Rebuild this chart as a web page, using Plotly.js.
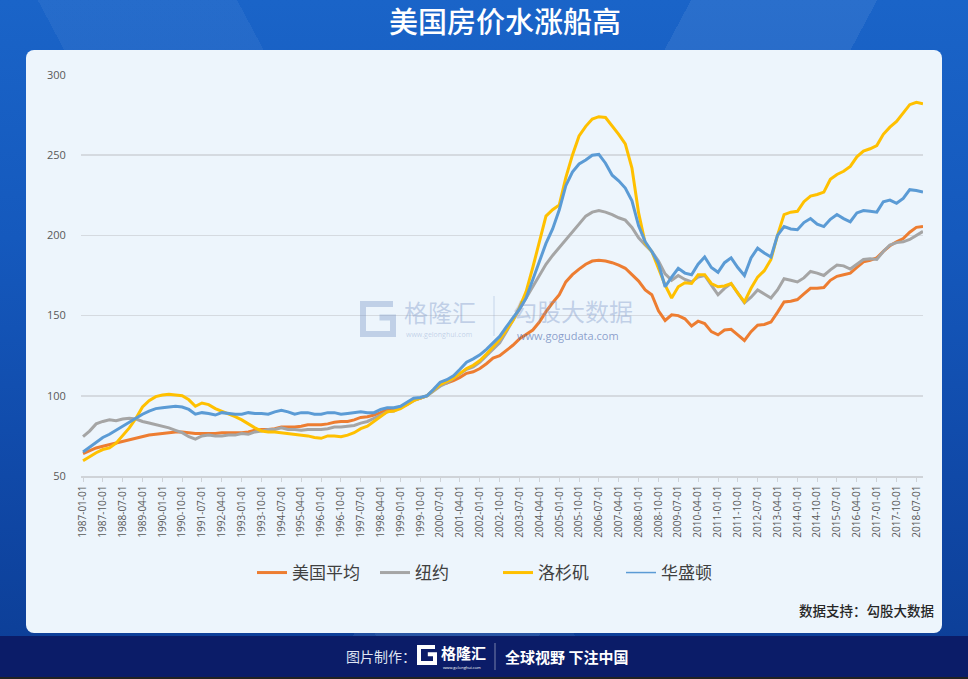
<!DOCTYPE html>
<html>
<head>
<meta charset="utf-8">
<script src="https://cdn.plot.ly/plotly-3.0.1.min.js"></script>
<style>
  html, body { margin: 0; padding: 0; }
  body {
    width: 968px; height: 679px; position: relative; overflow: hidden;
    background:
      linear-gradient(118deg, rgba(255,255,255,0) 52%, rgba(255,255,255,0.07) 52%, rgba(255,255,255,0.07) 66%, rgba(255,255,255,0) 66%),
      linear-gradient(62deg, rgba(255,255,255,0) 30%, rgba(255,255,255,0.05) 30%, rgba(255,255,255,0.05) 45%, rgba(255,255,255,0) 45%),
      linear-gradient(180deg, #1a64c8 0%, #1559bd 35%, #1049a8 70%, #0c3d95 100%);
  }
  #panel { position: absolute; left: 26px; top: 50px; width: 916px; height: 583px;
           border-radius: 8px; background: #edf5fc; }
  #footer { position: absolute; left: 0; top: 636px; width: 968px; height: 41px; background: #0b1c68; }
  #footer-edge { position: absolute; left: 0; top: 677px; width: 968px; height: 2px; background: #222; }
  #chart { position: absolute; left: 0; top: 0; width: 968px; height: 679px; }
</style>
</head>
<body>
<div id="panel"></div>
<div id="footer"></div>
<div id="footer-edge"></div>
<div id="chart"></div>
<script>
// Quarterly house price index, Jan 2000 = 100 (1987-01 .. 2018-10)
const seriesNames = ['美国平均', '纽约', '洛杉矶', '华盛顿'];

const usAverage = [
  64, 66, 67.5, 68.5,   69.5, 70.5, 71.5, 72.5,   73.5, 74.5, 75.5, 76,     76.5, 77, 77.5, 77.5,
  77, 76.5, 76.5, 76.5, 76.5, 77, 77, 77,         77, 77.5, 78.5, 79,       79, 79.5, 80.5, 80.5,
  80.5, 81, 82, 82,     82, 82.5, 83.5, 84,       84, 85, 86.5, 87,         88, 89.5, 91.5, 92,
  93, 95, 97.5, 98.5,   100, 103.5, 107, 108,     109.5, 111.5, 114, 115,   117, 120, 123.5, 125,
  128, 131.5, 135.5, 138, 141, 146, 152.5, 158,   163, 171, 175.5, 179,     182, 184, 184.5, 184,
  183, 181.5, 179.5, 175.5, 171.5, 166, 163, 153, 147, 150.5, 150, 148,     143.5, 146.5, 145, 140,
  138, 141, 141.5, 138, 134.5, 140, 144, 144.5,   146, 152, 158.5, 159,     160, 163.5, 167, 167,
  167.5, 172, 174.5, 175.5, 176.5, 180, 183.5, 184.5, 186, 190, 193.5, 196, 198, 202, 205, 205.5
];

const newYork = [
  74.5, 78, 82.5, 84,   85, 84.5, 85.5, 86,       85.5, 84, 83, 82,         81, 80, 78.5, 77,
  74.5, 73, 75, 75.5,   75, 75, 75.5, 75.5,       76.5, 76, 77.5, 78,       79, 79, 80, 79,
  79, 78.5, 79, 79,     79, 79.5, 80.5, 80.5,     81, 81.5, 83, 84,         86, 88, 90, 90.5,
  93, 94.5, 97, 98.5,   100, 103, 106, 108,       111, 113.5, 116.5, 118,   121, 125, 129, 133,
  140, 147, 154, 161,   168, 175, 182, 187.5,     192.5, 197, 202, 207.5,   212, 214.5, 215.5, 214.5,
  213, 211, 209.5, 205, 198.5, 194, 190, 184,     176, 172, 175, 172.5,     171, 174, 175, 169,
  163, 167, 170, 164,   158, 161.5, 166, 163.5,   161, 166, 173, 172,       171, 173.5, 177.5, 176.5,
  175, 178.5, 181.5, 181, 179, 182, 185, 185.5,   185, 190, 194, 195.5,     196, 197.5, 200, 202.5
];

const losAngeles = [
  59.5, 62, 64.5, 66.5, 67.5, 70.5, 75, 80,       86, 93, 97, 99.5,         100.5, 101, 100.5, 100,
  97.5, 93.5, 95.5, 94.5, 92, 90.5, 89, 87,       85, 82.5, 80, 78,         77.5, 77.5, 77, 76.5,
  76, 75.5, 75, 74,     73.5, 75, 75, 74.5,       75.5, 77, 79.5, 81,       84, 87.5, 90, 90.5,
  92, 94.5, 97, 98.5,   100, 103.5, 107, 109,     111, 114, 117, 119,       122, 126, 130.5, 135,
  141, 147, 155, 165,   180, 196, 212, 216,       219, 236, 250, 262,       268, 272.5, 274, 273.5,
  268.5, 263, 257, 242, 214, 195, 190, 179.5,     169, 161, 168, 170.5,     170, 175.5, 175.5, 170,
  168, 168.5, 170, 164, 158.5, 167, 174, 178,     185, 200, 213, 214.5,     215, 221, 224.5, 225.5,
  227, 235, 238, 240,   243, 249, 252.5, 254,      256, 263, 267.5, 271,     276, 281.5, 283, 282
];

const washington = [
  65, 68, 71.5, 74,     76, 78.5, 81, 84,         86.5, 88.5, 90.5, 92,     92.5, 93, 93.5, 93,
  91.5, 88.5, 89.5, 89, 88, 89.5, 89, 88.5,       88.5, 89.5, 89, 89,       88.5, 90, 91, 90,
  88.5, 89.5, 89.5, 88.5, 88.5, 89.5, 89.5, 88.5, 89, 89.5, 90, 89.5,       89.5, 91.5, 92.5, 92.5,
  93.5, 96, 98.5, 99,   100, 104, 108.5, 110,     112.5, 116.5, 121, 123,   125.5, 129, 133, 137,
  143, 148.5, 154, 161, 172, 184, 195, 204,       216, 231, 239.5, 244.5,   247, 250, 250.5, 245,
  237.5, 234, 229.5, 221.5, 206, 196, 190, 182.5, 168, 174, 179.5, 176.5,   175.5, 182, 186.5, 180,
  177, 183, 186, 180,   175, 186, 192, 189,       186.5, 200, 205.5, 204,   203.5, 208, 210.5, 207,
  205.5, 210, 213, 210.5, 208.5, 214, 215.5, 215, 214.5, 221, 222, 220,     223, 228.5, 228, 227
];

// quarterly observation dates
const dates = [];
for (let y = 1987; y <= 2018; y++) {
  for (const m of ['01', '04', '07', '10']) dates.push(y + '-' + m + '-01');
}

const colors = ['#ED7D31', '#A5A5A5', '#FFC000', '#5B9BD5'];
const values = [usAverage, newYork, losAngeles, washington];

const traces = values.map((v, i) => ({
  type: 'scatter', mode: 'lines', x: dates, y: v, name: seriesNames[i],
  line: { color: colors[i], width: 3 }, showlegend: i < 3, hoverinfo: 'x+y+name'
}));
// thin legend key for the last series
traces.push({
  type: 'scatter', mode: 'lines', x: [null], y: [null], name: seriesNames[3],
  line: { color: colors[3], width: 1.5 }, showlegend: true, hoverinfo: 'skip'
});

// plot area in page pixels
const L = 81, R = 923, T = 75, B = 476;
const px = x => (x - L) / (R - L);
const py = y => (B - y) / (B - T);
const path = pts => pts.map((p, i) => (i ? 'L' : 'M') + px(p[0]).toFixed(5) + ',' + py(p[1]).toFixed(5)).join(' ');

const cjk = '"Noto Sans CJK SC", "Noto Sans", sans-serif';
const wm = 'rgba(118,146,196,0.38)';

// G-shaped brand mark
function gMark(x0, y0, s, color, w) {
  const pts = [[x0 + s, y0], [x0, y0], [x0, y0 + s], [x0 + s, y0 + s], [x0 + s, y0 + s * 0.45], [x0 + s * 0.55, y0 + s * 0.45]];
  return { type: 'path', xref: 'paper', yref: 'paper', path: path(pts), line: { color: color, width: w }, layer: 'above' };
}

const layout = {
  width: 968, height: 679,
  margin: { l: L, r: 968 - R, t: T, b: 679 - B, pad: 0 },
  paper_bgcolor: 'rgba(0,0,0,0)', plot_bgcolor: 'rgba(0,0,0,0)',
  font: { family: cjk, color: '#595959' },
  title: {
    text: '美国房价水涨船高', xref: 'container', yref: 'container',
    x: 505 / 968, xanchor: 'center', y: 1 - 23 / 679, yanchor: 'middle',
    font: { family: cjk, size: 29, color: '#ffffff', weight: 500 }
  },
  xaxis: {
    type: 'date', range: ['1986-12-04', '2018-10-01'],
    tick0: '1987-01-01', dtick: 'M9', tickformat: '%Y-%m-%d', tickangle: -90,
    tickfont: { family: '"Open Sans", sans-serif', size: 10, color: '#595959' },
    ticks: 'outside', ticklen: 4, tickcolor: '#cfd3d8', tickwidth: 1,
    showgrid: false, showline: true, linecolor: '#cfd3d8', linewidth: 1.5, zeroline: false
  },
  yaxis: {
    range: [50, 300], dtick: 50, tick0: 50,
    tickfont: { family: '"Open Sans", sans-serif', size: 11, color: '#595959' },
    ticks: 'outside', ticklen: 12, tickcolor: 'rgba(0,0,0,0)',
    showgrid: true, gridcolor: '#d5dae0', gridwidth: 1.5, zeroline: false, showline: false
  },
  legend: {
    orientation: 'h', x: px(498), xanchor: 'center', y: py(573), yanchor: 'middle',
    entrywidth: 78, entrywidthmode: 'pixels',
    font: { family: cjk, size: 17, color: '#404040' }, bgcolor: 'rgba(0,0,0,0)'
  },
  shapes: [
    gMark(363, 304, 30, wm, 6),
    { type: 'line', xref: 'paper', yref: 'paper', x0: px(494), x1: px(494), y0: py(296), y1: py(336),
      line: { color: 'rgba(140,165,210,0.4)', width: 1 } },
    gMark(419, 647, 16, '#ffffff', 4),
    { type: 'line', xref: 'paper', yref: 'paper', x0: px(495), x1: px(495), y0: py(643), y1: py(670),
      line: { color: 'rgba(255,255,255,0.45)', width: 1 } }
  ],
  annotations: [
    { text: '格隆汇', x: px(402), y: py(311), xanchor: 'left', yanchor: 'middle',
      font: { family: cjk, size: 24, color: wm } },
    { text: 'www.gelonghui.com', x: px(404), y: py(334), xanchor: 'left', yanchor: 'middle',
      font: { family: '"Open Sans", sans-serif', size: 7, color: wm } },
    { text: '勾股大数据', x: px(511), y: py(310), xanchor: 'left', yanchor: 'middle',
      font: { family: cjk, size: 24, color: wm } },
    { text: 'www.gogudata.com', x: px(515), y: py(335), xanchor: 'left', yanchor: 'middle',
      font: { family: '"Open Sans", sans-serif', size: 11, color: 'rgba(70,100,170,0.6)' } },
    { text: '数据支持：勾股大数据', x: px(936), y: py(610), xanchor: 'right', yanchor: 'middle',
      font: { family: cjk, size: 13.5, color: '#262626', weight: 500 } },
    { text: '图片制作：', x: px(344), y: py(656), xanchor: 'left', yanchor: 'middle',
      font: { family: cjk, size: 14, color: '#dfe5f3' } },
    { text: '格隆汇', x: px(439), y: py(652), xanchor: 'left', yanchor: 'middle',
      font: { family: cjk, size: 15, color: '#ffffff', weight: 'bold' } },
    { text: 'www.gelonghui.com', x: px(441), y: py(667), xanchor: 'left', yanchor: 'middle',
      font: { family: '"Open Sans", sans-serif', size: 4, color: '#ffffff' } },
    { text: '全球视野 下注中国', x: px(503), y: py(656), xanchor: 'left', yanchor: 'middle',
      font: { family: cjk, size: 15, color: '#ffffff', weight: 'bold' } }
  ].map(a => Object.assign({ xref: 'paper', yref: 'paper', showarrow: false }, a))
};

Plotly.newPlot('chart', traces, layout, { displayModeBar: false, staticPlot: true });
</script>
</body>
</html>
